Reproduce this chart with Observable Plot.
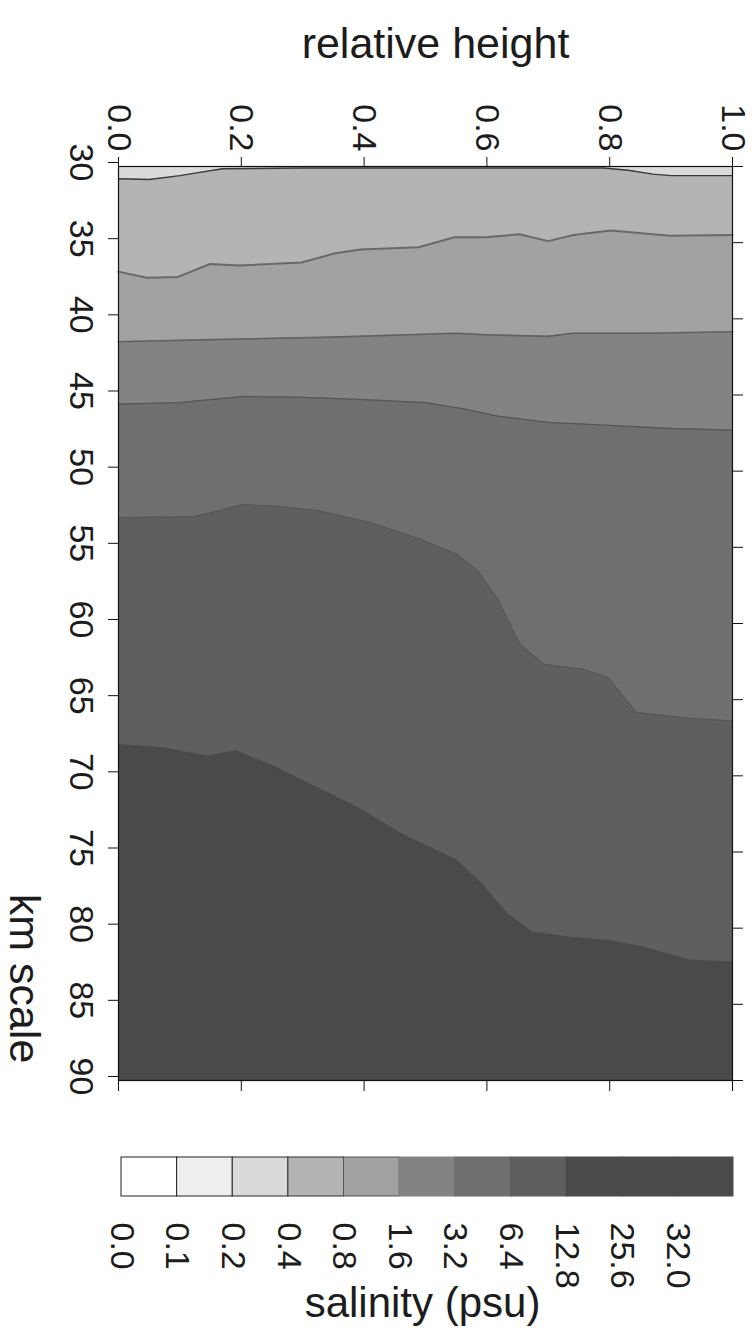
<!DOCTYPE html>
<html>
<head>
<meta charset="utf-8">
<script src="https://cdn.jsdelivr.net/npm/d3@7"></script>
<script src="https://cdn.jsdelivr.net/npm/@observablehq/plot@0.6"></script>
<style>
  body { margin: 0; background: #fff; }
  svg { display: block; }
</style>
</head>
<body>
<div id="chart"></div>
<div id="legend"></div>
<script>
// ---- axes ----
const relHeightTicks = [0, 0.2, 0.4, 0.6, 0.8, 1.0];
const kmTicks = [30, 35, 40, 45, 50, 55, 60, 65, 70, 75, 80, 85, 90];
const kmDomain = [30, 90];
const relHeightDomain = [0, 1];

// ---- legend classes (lower bound of each class) ----
const salinityLabels = ["0.0", "0.1", "0.2", "0.4", "0.8", "1.6", "3.2", "6.4", "12.8", "25.6", "32.0"];
const salinityColors = ["#ffffff", "#efefef", "#dadada", "#b4b4b4", "#a2a2a2", "#838383", "#6f6f6f", "#5f5f5f", "#4a4a4a", "#4a4a4a", "#4a4a4a"];
const swatchStroke = ["#222222", "#222222", "#2a2a2a", "#333333", "#555555", "#838383", "#6f6f6f", "#5f5f5f", "#4a4a4a", "#4a4a4a", "#4a4a4a"];

// class shown at the top of the section (above first contour)
const topClass = 2;

// ---- contour boundaries (relative height -> km) ----
const c1Rh = [0, 0.05, 0.1, 0.13, 0.17, 0.3, 0.5, 0.7, 0.79, 0.83, 0.87, 0.9, 0.95, 1.0];
const c1Km = [30.8, 30.85, 30.6, 30.4, 30.15, 30.1, 30.1, 30.1, 30.1, 30.25, 30.5, 30.6, 30.6, 30.6];

const c2Rh = [0, 0.046, 0.097, 0.149, 0.196, 0.298, 0.353, 0.394, 0.489, 0.547, 0.598, 0.653, 0.7, 0.741, 0.802, 0.898, 1.0];
const c2Km = [36.9, 37.3, 37.25, 36.4, 36.5, 36.3, 35.7, 35.45, 35.3, 34.65, 34.65, 34.45, 34.9, 34.5, 34.2, 34.55, 34.5];

const c3Rh = [0, 0.17, 0.35, 0.55, 0.6, 0.7, 0.74, 0.86, 1.0];
const c3Km = [41.5, 41.35, 41.2, 40.95, 41.05, 41.15, 40.95, 40.95, 40.85];

const c4Rh = [0, 0.1, 0.2, 0.3, 0.4, 0.5, 0.56, 0.62, 0.7, 0.8, 0.9, 1.0];
const c4Km = [45.6, 45.5, 45.1, 45.15, 45.3, 45.5, 45.9, 46.4, 46.8, 47.0, 47.2, 47.3];

const c5Rh = [0, 0.121, 0.169, 0.2, 0.258, 0.326, 0.408, 0.49, 0.551, 0.585, 0.619, 0.653, 0.694, 0.756, 0.797, 0.844, 0.926, 1.0];
const c5Km = [53.05, 53.0, 52.55, 52.2, 52.3, 52.6, 53.35, 54.45, 55.45, 56.55, 58.5, 61.35, 62.7, 63.0, 63.55, 65.85, 66.2, 66.4];

const c6Rh = [0, 0.074, 0.144, 0.192, 0.253, 0.328, 0.389, 0.457, 0.552, 0.593, 0.634, 0.675, 0.736, 0.797, 0.852, 0.933, 1.0];
const c6Km = [67.95, 68.15, 68.7, 68.35, 69.35, 70.85, 72.05, 73.7, 75.55, 77.1, 79.05, 80.25, 80.6, 80.8, 81.2, 82.1, 82.2];

// class index below each contour
const contourClasses = [3, 4, 5, 6, 7, 8];
// contour line styles
const contourStroke = ["#3a3a3a", "#6a6a6a", "#626262", "#565656", "#555555", "none"];
const contourWidth = [1.4, 2, 1.6, 1.3, 1.1, 0];

const contourRh = [c1Rh, c2Rh, c3Rh, c4Rh, c5Rh, c6Rh];
const contourKm = [c1Km, c2Km, c3Km, c4Km, c5Km, c6Km];

const contours = contourRh.map((rh, k) => ({
  pts: rh.map((r, i) => ({rh: r, km: contourKm[k][i]})),
  cls: contourClasses[k],
  stroke: contourStroke[k],
  width: contourWidth[k]
}));

const font = "'Liberation Sans', Arial, Helvetica, sans-serif";
const ink = "#1c1c1c";

const chart = Plot.plot({
  width: 753,
  height: 1110,
  marginTop: 166,
  marginBottom: 30,
  marginLeft: 118,
  marginRight: 21,
  style: {fontFamily: font, fontSize: "34px", color: ink, background: "#fff"},
  x: {domain: relHeightDomain},
  y: {domain: kmDomain, reverse: true},
  marks: [
    Plot.frame({fill: salinityColors[topClass]}),
    ...contours.map(c => Plot.areaY(c.pts, {x: "rh", y1: "km", y2: kmDomain[1], fill: salinityColors[c.cls]})),
    ...contours.filter(c => c.stroke !== "none").map(c =>
      Plot.line(c.pts, {x: "rh", y: "km", stroke: c.stroke, strokeWidth: c.width})),
    Plot.frame({stroke: "#111", strokeWidth: 1.2}),
    Plot.axisX({anchor: "top", ticks: relHeightTicks, tickFormat: d3.format(".1f"), tickSize: 10, tickPadding: 5,
      tickRotate: 90, textAnchor: "end", lineAnchor: "middle", fontSize: 34, label: null, stroke: "#111"}),
    Plot.axisX({anchor: "bottom", ticks: relHeightTicks, tickSize: 11, tickFormat: () => "", label: null, stroke: "#111"}),
    Plot.axisY({anchor: "left", ticks: kmTicks, tickSize: 10, tickPadding: 14, tickRotate: 90,
      textAnchor: "middle", lineAnchor: "top", dy: -4, fontSize: 34, label: null, stroke: "#111"}),
    Plot.axisY({anchor: "right", ticks: kmTicks, tickSize: 10, tickFormat: () => "", label: null, stroke: "#111"}),
    Plot.text(["relative height"], {text: d => d, frameAnchor: "top", dx: 10, dy: -139, fontSize: 43, fill: ink}),
    Plot.text(["km scale"], {text: d => d, frameAnchor: "left", rotate: 90, textAnchor: "middle", lineAnchor: "middle",
      dx: -95, dy: 355, fontSize: 43, fill: ink})
  ]
});
document.getElementById("chart").append(chart);

const legend = Plot.plot({
  width: 753,
  height: 232,
  marginTop: 47,
  marginBottom: 146,
  marginLeft: 121,
  marginRight: 20,
  style: {fontFamily: font, fontSize: "34px", color: ink, background: "#fff"},
  x: {domain: [0, salinityColors.length], axis: null},
  marks: [
    Plot.rect(salinityColors, {x1: (d, i) => i, x2: (d, i) => i + 1, fill: d => d,
      stroke: (d, i) => swatchStroke[i], strokeWidth: 1}),
    Plot.text(salinityLabels, {x: (d, i) => i, text: d => d, frameAnchor: "bottom", rotate: 90,
      textAnchor: "start", lineAnchor: "middle", dy: 26, fontSize: 34, fill: ink}),
    Plot.text(["salinity (psu)"], {text: d => d, frameAnchor: "bottom", dx: -5, dy: 120, fontSize: 42, fill: ink})
  ]
});
document.getElementById("legend").append(legend);
</script>
</body>
</html>
